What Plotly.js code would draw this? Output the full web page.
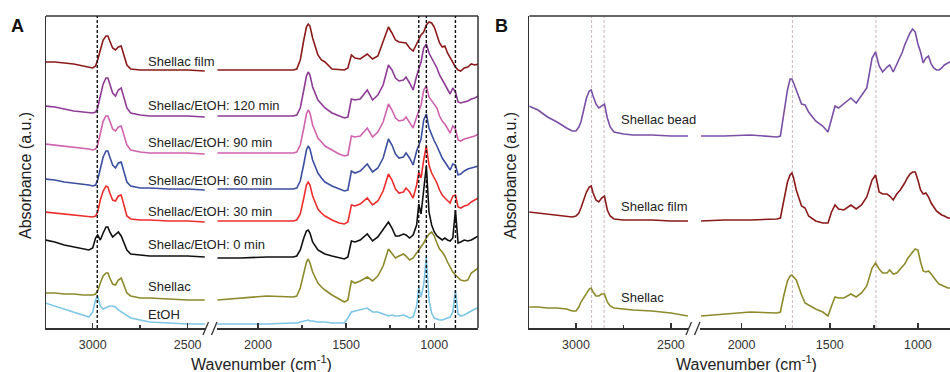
<!DOCTYPE html>
<html><head><meta charset="utf-8">
<script src="https://cdn.plot.ly/plotly-3.0.1.min.js"></script>
<style>html,body{margin:0;padding:0;background:#fff;} #chart{width:950px;height:372px;}</style>
</head><body><div id="chart"></div>
<script>
// ---------- DATA (wavenumbers in cm-1, absorbance in a.u., spectra stacked) ----------
const wnLeft = [3250,3200,3150,3100,3050,3020,3000,2985,2974,2960,2945,2930,2920,2910,2895,2880,2865,2850,2835,2820,2800,2750,2700,2600,2500,2410];
const wnRight = [2230,2100,1950,1800,1780,1760,1740,1725,1715,1705,1690,1660,1640,1620,1580,1540,1510,1490,1470,1450,1420,1380,1350,1320,1290,1260,1240,1220,1200,1175,1160,1140,1120,1100,1088,1075,1060,1045,1030,1015,1000,985,970,955,940,925,910,895,880,865,850,830,810,790,770,750];

// Panel A
const aFilmL = [266,266,265,264,262,261,260,262,268,278,288,292,292,287,280,278,281,282,271,263,259,258,258,258,258,257];
const aFilmR = [258,258,258,258,259,268,288,301,304,302,290,273,268,266,259,258,258,260,273,270,269,274,269,272,286,301,295,288,286,285,285,280,277,284,288,293,296,303,306,305,301,294,285,281,282,275,270,266,261,258,257,260,261,264,263,264];
const a120L = [222,221,219,217,216,215,215,216,220,232,244,250,250,244,235,232,238,240,230,220,215,213,212,212,212,211];
const a120R = [212,212,212,212,213,220,238,252,256,253,241,228,224,220,215,212,210,211,229,228,229,238,228,233,243,263,258,250,247,248,251,245,238,252,260,266,280,284,275,270,266,260,253,248,243,239,234,240,236,226,225,226,227,229,230,232];
const a90L = [184,183,182,181,180,179,178,179,183,195,207,212,212,207,199,197,201,202,192,183,178,176,175,175,175,174];
const a90R = [175,175,175,175,176,183,200,214,218,215,203,190,186,182,178,174,172,173,192,191,192,200,191,196,206,224,218,210,207,208,211,206,200,211,216,223,238,242,231,227,224,220,212,207,204,200,195,202,199,188,187,189,190,191,192,194];
const a60L = [149,148,146,145,144,143,142,143,148,160,171,177,177,171,163,160,165,166,156,146,142,140,140,139,139,138];
const a60R = [139,139,139,139,140,147,164,178,182,179,168,155,150,146,142,139,137,138,157,155,157,164,156,160,170,189,183,174,170,171,175,170,163,177,182,189,208,214,200,193,187,182,176,170,166,162,158,164,163,153,154,157,159,160,161,162];
const a30L = [116,115,114,113,112,111,111,112,116,128,137,142,141,135,128,127,132,133,121,112,109,108,108,107,107,106];
const a30R = [107,107,107,107,108,114,130,143,146,143,132,119,115,112,108,105,104,106,123,122,124,130,123,127,137,154,148,139,135,136,140,136,130,143,156,150,168,182,163,155,150,145,138,133,130,127,125,132,133,121,120,122,123,126,128,130];
const a0L = [88,86,83,81,79,78,80,90,93,88,95,101,101,96,91,94,96,92,84,78,74,73,72,72,72,71];
const a0R = [70,70,71,71,72,78,90,97,98,95,86,78,76,74,72,70,69,71,87,86,88,94,87,91,98,106,100,92,92,94,93,90,93,103,124,114,138,162,116,103,96,92,90,88,90,88,87,90,118,85,86,88,87,88,90,92];
const aShellacL = [35,35,34,34,33,33,33,34,37,45,52,55,55,50,44,43,48,50,42,35,32,30,30,29,28,28];
const aShellacR = [28,30,32,31,32,40,56,66,69,65,56,45,41,38,33,29,26,28,47,45,47,51,47,52,62,79,75,70,72,74,72,68,70,75,78,81,85,90,94,96,92,85,79,76,72,66,61,56,53,50,48,47,48,55,58,60];
const aEtohL = [25,22,19,16,13,11,16,28,32,22,19,20,21,22,22,21,18,16,14,12,10,8,6,5,4,4];
const aEtohR = [4,4,4,5,5,6,7,8,8,7,7,6,6,6,5,5,5,10,16,17,18,20,16,16,14,12,13,12,12,13,12,10,11,22,41,31,43,71,28,15,10,9,8,8,9,10,11,16,38,14,12,13,15,17,19,20];

// Panel B
const bBeadL = [222,218,211,206,200,197,197,201,206,218,230,237,238,232,224,220,222,224,210,201,196,194,193,193,192,192];
const bBeadR = [192,192,193,191,192,213,238,249,249,245,238,224,223,216,207,202,196,210,222,220,224,230,225,232,240,270,276,262,256,261,263,256,264,271,276,283,289,295,299,296,284,276,265,270,272,264,260,258,258,260,263,265,267,267,267,267];
const bFilmL = [116,115,114,113,112,111,112,115,120,128,136,141,142,135,128,126,130,132,118,112,109,108,108,108,107,107];
const bFilmR = [107,108,108,109,110,128,146,153,155,150,138,122,120,112,107,105,105,116,123,119,118,123,119,123,131,148,153,136,134,134,132,128,134,138,141,145,150,154,156,156,148,138,134,135,131,125,121,117,115,113,112,110,110,110,110,110];
const bShellacL = [21,21,20,20,19,17,17,21,26,30,35,39,40,36,32,32,34,34,26,22,20,19,18,17,15,12];
const bShellacR = [12,14,16,15,16,33,47,52,53,51,48,33,25,23,19,16,12,22,31,30,30,34,31,35,42,60,65,59,55,55,58,54,55,59,61,64,69,73,76,79,78,66,57,56,57,54,50,47,44,43,42,40,40,40,40,40];

const labelsA = ["Shellac film","Shellac/EtOH: 120 min","Shellac/EtOH: 90 min","Shellac/EtOH: 60 min","Shellac/EtOH: 30 min","Shellac/EtOH: 0 min","Shellac","EtOH"];
const labelsB = ["Shellac bead","Shellac film","Shellac"];
const majorLeft = [3000,2500], minorLeft = [2750];
const majorRight = [2000,1500,1000], minorRight = [1750,1250];
const ethanolBands = [2976,1088,1045,880];
const shellacBands = [2918,2852,1712,1238];

// ---------- LAYOUT / STYLE ----------
const W = 950, H = 372, T = 16, BOT = 328;
const fx = p => p / W;
const fy = p => (BOT - p) / (BOT - T);
const FONT = "Liberation Sans, Arial, sans-serif";
const AX = '#333';

const seriesA = [
  {l:aFilmL, r:aFilmR, c:'#8B1A1A'},
  {l:a120L, r:a120R, c:'#8E3B96'},
  {l:a90L, r:a90R, c:'#D062AE'},
  {l:a60L, r:a60R, c:'#3D4FA3'},
  {l:a30L, r:a30R, c:'#EE2D2D'},
  {l:a0L, r:a0R, c:'#111111'},
  {l:aShellacL, r:aShellacR, c:'#8C8A2B'},
  {l:aEtohL, r:aEtohR, c:'#7DC6E6'}
];
const seriesB = [
  {l:bBeadL, r:bBeadR, c:'#7A4FA6'},
  {l:bFilmL, r:bFilmR, c:'#8B1A1A'},
  {l:bShellacL, r:bShellacR, c:'#8C8A2B'}
];

const traces = [];
function addSeries(list, xl, xr, ya, names){
  list.forEach((s, i) => {
    traces.push({x: wnLeft, y: s.l, xaxis: xl, yaxis: ya, mode:'lines', name: names[i], line:{color:s.c, width:1.6}, hoverinfo:'skip', showlegend:false});
    traces.push({x: wnRight, y: s.r, xaxis: xr, yaxis: ya, mode:'lines', name: names[i], line:{color:s.c, width:1.6}, hoverinfo:'skip', showlegend:false});
  });
}
addSeries(seriesA, 'x', 'x2', 'y', labelsA);
addSeries(seriesB, 'x3', 'x4', 'y2', labelsB);

function xax(d0, d1, range, major, minor, anchor){
  return {
    domain:[fx(d0), fx(d1)], range: range, anchor: anchor,
    tickmode:'array', tickvals: major, ticktext: major.map(String),
    ticks:'inside', ticklen:5, tickwidth:1.5, tickcolor:AX, ticklabelstandoff:4,
    minor:{tickmode:'array', tickvals: minor, ticks:'inside', ticklen:3, tickwidth:1.5, tickcolor:AX, showgrid:false},
    showline:true, linecolor:AX, linewidth:1.5, showgrid:false, zeroline:false,
    tickfont:{family:FONT, size:12.5, color:'#333'}, automargin:false, fixedrange:true
  };
}
function yax(anchor){
  return {domain:[0,1], range:[0,312], anchor: anchor, showline:true, linecolor:AX, linewidth:1.5,
    ticks:'', showticklabels:false, showgrid:false, zeroline:false, automargin:false, fixedrange:true};
}

const shapes = [];
function seg(x0,y0,x1,y1,color,width,dash){
  shapes.push({type:'line', xref:'paper', yref:'paper', x0:fx(x0), y0:fy(y0), x1:fx(x1), y1:fy(y1), line:{color:color, width:width, dash:dash||'solid'}});
}
// frames
seg(46, T, 478, T, AX, 1.5);
seg(478, T, 478, BOT, AX, 1.5);
seg(529.3, T, 951, T, AX, 1.5);
// axis-break marks
seg(203, 335, 208.5, 322, AX, 1.3); seg(211.5, 335, 217, 322, AX, 1.3);
seg(686, 335, 691.5, 322, AX, 1.3); seg(694.5, 335, 700, 322, AX, 1.3);
// reference bands
ethanolBands.forEach((w, i) => shapes.push({type:'line', xref: i === 0 ? 'x' : 'x2', yref:'paper', x0:w, x1:w, y0:0, y1:1, line:{color:'#111', width:1.4, dash:'3px,2px'}}));
shellacBands.forEach((w, i) => shapes.push({type:'line', xref: i < 2 ? 'x3' : 'x4', yref:'paper', x0:w, x1:w, y0:0, y1:1, layer:'below', line:{color:'#c8b6bb', width:1, dash:'3px,2px'}}));

const annotations = [];
const labelYA = [61, 106, 142.7, 180, 211.7, 244.3, 286.7, 314.3];
labelsA.forEach((t, i) => annotations.push({text:t, xref:'paper', yref:'paper', x:fx(146), y:fy(labelYA[i]), xanchor:'left', yanchor:'middle', showarrow:false, font:{family:FONT, size:13, color:'#222'}}));
const labelYB = [119.3, 206, 297.3];
labelsB.forEach((t, i) => annotations.push({text:t, xref:'paper', yref:'paper', x:fx(619), y:fy(labelYB[i]), xanchor:'left', yanchor:'middle', showarrow:false, font:{family:FONT, size:13, color:'#222'}}));
[261.7, 746].forEach(cx => annotations.push({text:'Wavenumber (cm<sup>-1</sup>)', xref:'paper', yref:'paper', x:fx(cx), y:fy(363), xanchor:'center', yanchor:'middle', showarrow:false, font:{family:FONT, size:16, color:'#222'}}));
[25, 510].forEach(cx => annotations.push({text:'Absorbance (a.u.)', xref:'paper', yref:'paper', x:fx(cx), y:fy(176), textangle:-90, xanchor:'center', yanchor:'middle', showarrow:false, font:{family:FONT, size:16, color:'#222'}}));
annotations.push({text:'<b>A</b>', xref:'paper', yref:'paper', x:fx(17.5), y:fy(25.5), xanchor:'center', yanchor:'middle', showarrow:false, font:{family:FONT, size:18, color:'#111'}});
annotations.push({text:'<b>B</b>', xref:'paper', yref:'paper', x:fx(501.5), y:fy(25.5), xanchor:'center', yanchor:'middle', showarrow:false, font:{family:FONT, size:18, color:'#111'}});

const layout = {
  width:W, height:H, margin:{l:0, r:0, t:T, b:H-BOT, pad:0},
  paper_bgcolor:'#fff', plot_bgcolor:'rgba(0,0,0,0)', showlegend:false,
  font:{family:FONT, color:'#333'},
  xaxis: xax(46, 205.7, [3246, 2405], majorLeft, minorLeft, 'y'),
  xaxis2: xax(216.7, 478, [2234, 752], majorRight, minorRight, 'y'),
  xaxis3: xax(529.3, 688, [3246, 2410], majorLeft, minorLeft, 'y2'),
  xaxis4: xax(700, 950, [2236, 818], majorRight, minorRight, 'y2'),
  yaxis: yax('x'),
  yaxis2: yax('x3'),
  shapes: shapes, annotations: annotations
};
Plotly.newPlot('chart', traces, layout, {staticPlot:true, displayModeBar:false});
</script></body></html>
